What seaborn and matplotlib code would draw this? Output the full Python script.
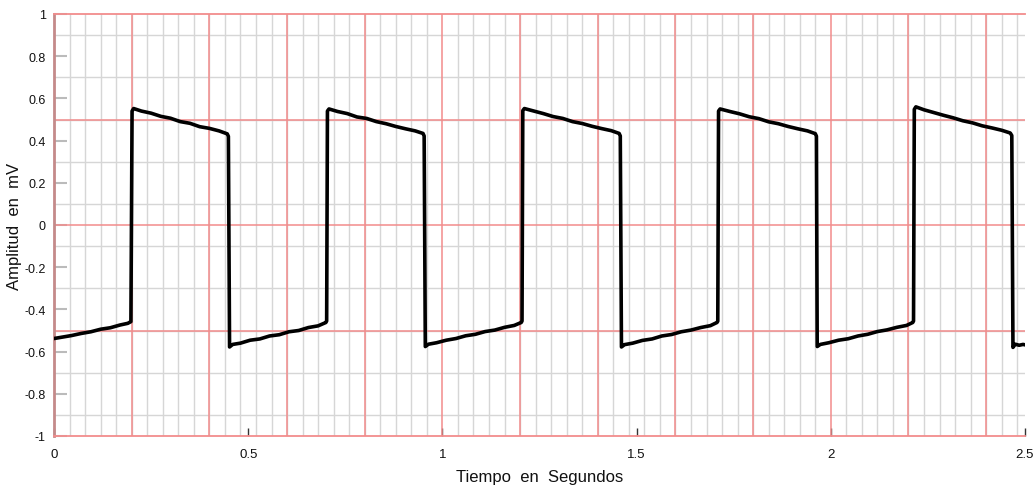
import matplotlib
matplotlib.use("Agg")
import matplotlib.pyplot as plt
import seaborn as sns
import pandas as pd
import numpy as np
from matplotlib.ticker import MultipleLocator

# ---- data ----
time_s = [
    0.000, 0.020, 0.045, 0.070, 0.095, 0.120, 0.145, 0.170, 0.190, 0.198,
    0.201, 0.205, 0.225, 0.250, 0.275, 0.300, 0.325, 0.350, 0.375, 0.400, 0.425, 0.446, 0.449,
    0.452, 0.460, 0.480, 0.505, 0.530, 0.555, 0.580, 0.605, 0.630, 0.655, 0.680, 0.700, 0.702,
    0.704, 0.708, 0.730, 0.755, 0.780, 0.805, 0.830, 0.855, 0.880, 0.905, 0.930, 0.950, 0.953,
    0.956, 0.964, 0.985, 1.010, 1.035, 1.060, 1.085, 1.110, 1.135, 1.160, 1.185, 1.203, 1.205,
    1.207, 1.211, 1.235, 1.260, 1.285, 1.310, 1.335, 1.360, 1.385, 1.410, 1.435, 1.455, 1.458,
    1.461, 1.469, 1.490, 1.515, 1.540, 1.565, 1.590, 1.615, 1.640, 1.665, 1.690, 1.707, 1.709,
    1.711, 1.715, 1.740, 1.765, 1.790, 1.815, 1.840, 1.865, 1.890, 1.915, 1.940, 1.960, 1.963,
    1.965, 1.973, 1.995, 2.020, 2.045, 2.070, 2.095, 2.120, 2.145, 2.170, 2.195, 2.211, 2.213,
    2.215, 2.219, 2.240, 2.265, 2.290, 2.315, 2.340, 2.365, 2.390, 2.415, 2.440, 2.462, 2.466,
    2.469, 2.475, 2.485, 2.495, 2.500,
]
amplitude_mv = [
    -0.538, -0.532, -0.524, -0.514, -0.506, -0.494, -0.487, -0.474, -0.466, -0.458,
    0.540, 0.552, 0.540, 0.530, 0.515, 0.506, 0.490, 0.482, 0.466, 0.458, 0.446, 0.432, 0.420,
    -0.578, -0.566, -0.560, -0.546, -0.540, -0.526, -0.520, -0.506, -0.500, -0.486, -0.478, -0.462, -0.455,
    0.540, 0.550, 0.538, 0.528, 0.512, 0.505, 0.490, 0.480, 0.467, 0.456, 0.446, 0.434, 0.422,
    -0.576, -0.565, -0.558, -0.546, -0.538, -0.525, -0.518, -0.505, -0.498, -0.485, -0.476, -0.462, -0.455,
    0.542, 0.552, 0.540, 0.528, 0.514, 0.505, 0.490, 0.481, 0.468, 0.457, 0.447, 0.434, 0.422,
    -0.578, -0.567, -0.560, -0.547, -0.540, -0.526, -0.519, -0.506, -0.498, -0.486, -0.477, -0.462, -0.456,
    0.540, 0.550, 0.538, 0.527, 0.513, 0.504, 0.489, 0.480, 0.467, 0.456, 0.446, 0.433, 0.421,
    -0.576, -0.566, -0.558, -0.546, -0.539, -0.526, -0.518, -0.505, -0.497, -0.485, -0.476, -0.462, -0.455,
    0.548, 0.560, 0.546, 0.533, 0.520, 0.508, 0.494, 0.484, 0.470, 0.460, 0.449, 0.436, 0.424,
    -0.580, -0.565, -0.570, -0.566, -0.568,
]
x_ticks = [0, 0.5, 1, 1.5, 2, 2.5]
x_tick_labels = ["0", "0.5", "1", "1.5", "2", "2.5"]
y_ticks = [-1, -0.8, -0.6, -0.4, -0.2, 0, 0.2, 0.4, 0.6, 0.8, 1]
y_tick_labels = ["-1", "-0.8", "-0.6", "-0.4", "-0.2", "0", "0.2", "0.4", "0.6", "0.8", "1"]
x_label = "Tiempo  en  Segundos"
y_label = "Amplitud  en  mV"

df = pd.DataFrame({"t": time_s, "v": amplitude_mv})

sns.set_theme(style="white")
plt.rcParams["font.family"] = ["Liberation Sans", "DejaVu Sans"]

fig = plt.figure(figsize=(10.35, 4.89), dpi=100)
ax = fig.add_axes([54 / 1035, 1 - 437 / 489, (1025 - 54) / 1035, (437 - 15) / 489])

# ECG paper grid
ax.xaxis.set_minor_locator(MultipleLocator(0.04))
ax.yaxis.set_minor_locator(MultipleLocator(0.1))
ax.grid(which="minor", color="#d6d6d6", linewidth=1.0, zorder=0)
for gx in np.arange(0.2, 2.45, 0.2):
    ax.axvline(gx, color="#f28c8c", linewidth=1.1, zorder=1)
for gy in [-0.5, 0, 0.5]:
    ax.axhline(gy, color="#f28c8c", linewidth=1.1, zorder=1)
ax.set_axisbelow(True)

sns.lineplot(data=df, x="t", y="v", ax=ax, sort=False, estimator=None,
             color="black", linewidth=2.6, zorder=3)

ax.set_xlim(0, 2.5)
ax.set_ylim(-1, 1)
ax.set_xticks(x_ticks)
ax.set_xticklabels(x_tick_labels)
ax.set_yticks(y_ticks)
ax.set_yticklabels(y_tick_labels)
ax.tick_params(axis="x", which="major", direction="in", length=6, width=1, color="#333333",
               labelsize=9.5, pad=9, bottom=True, labelcolor="#111111")
ax.tick_params(axis="y", which="major", direction="in", length=9, width=1.5, color="#bbbbbb",
               labelsize=9, pad=6, left=True, labelcolor="#111111")
ax.tick_params(which="minor", length=0)

for s in ["top", "bottom"]:
    ax.spines[s].set_color("#f28c8c")
    ax.spines[s].set_linewidth(1.3)
ax.spines["left"].set_color("#c48a8a")
ax.spines["left"].set_linewidth(2)
ax.spines["right"].set_visible(False)

ax.set_xlabel(x_label, fontsize=12, color="#111111")
ax.set_ylabel(y_label, fontsize=12, color="#111111")
ax.xaxis.set_label_coords(0.5, -33 / 422)
ax.yaxis.set_label_coords(-32 / 971, 0.5)

fig.savefig("out.png", dpi=100)
